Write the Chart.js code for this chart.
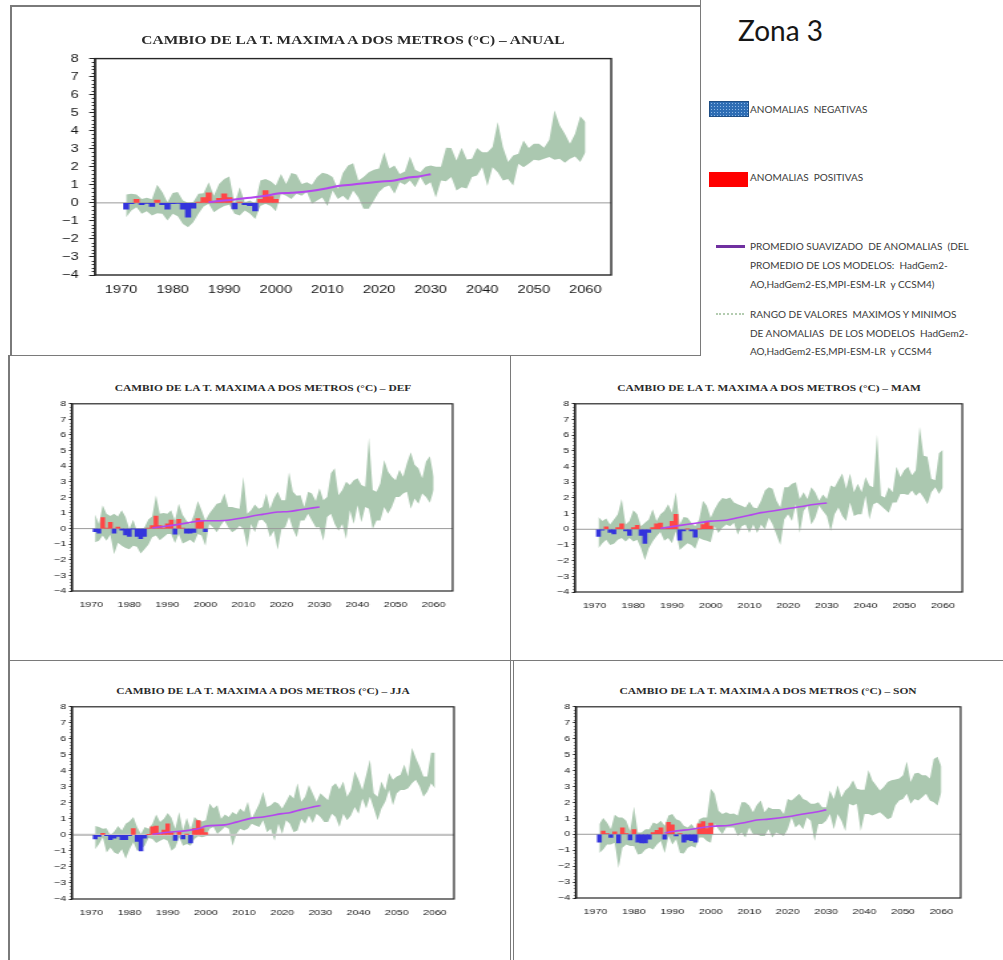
<!DOCTYPE html>
<html>
<head>
<meta charset="utf-8">
<title>Cambio de la T. máxima a dos metros – Zona 3</title>
<script src="https://cdn.jsdelivr.net/npm/chart.js@4.4.1/dist/chart.umd.min.js"></script>
<style>
  html, body { margin: 0; padding: 0; background: #fff; }
  #page { position: relative; width: 1003px; height: 960px; overflow: hidden; background: #fff; }
  .rule { position: absolute; background: #7a7a7a; }
  .panel { position: absolute; transform-origin: 0 0; }
  .panel canvas { display: block; }
  .ttl { position: absolute; font-family: "Liberation Serif", "Times New Roman", serif; font-weight: bold;
         color: #2a2a2a; white-space: nowrap; line-height: 1; }
  .lg { position: absolute; font-family: Lato, "Open Sans", sans-serif; color: #3a3a3a; font-size: 10px;
        line-height: 12px; white-space: pre; }
  #zona { position: absolute; left: 738px; top: 13px; font-family: Lato, "Open Sans", sans-serif; font-size: 28px;
          color: #161616; white-space: nowrap; line-height: 34px; }
</style>
</head>
<body>
<div id="page">
  <!-- panel frames -->
  <div class="rule" style="left:10px; top:5px; width:690px; height:1.5px;"></div>
  <div class="rule" style="left:10px; top:5px; width:1.5px; height:350px;"></div>
  <div class="rule" style="left:699.5px; top:0px; width:1.5px; height:356px;"></div>
  <div class="rule" style="left:8px; top:354.5px; width:693px; height:1.5px;"></div>
  <div class="rule" style="left:8px; top:355px; width:1.5px; height:605px;"></div>
  <div class="rule" style="left:509.5px; top:355px; width:1.5px; height:305px;"></div>
  <div class="rule" style="left:8px; top:659.5px; width:995px; height:1.5px;"></div>
  <div class="rule" style="left:509.5px; top:660px; width:1.5px; height:300px;"></div>
  <div class="rule" style="left:512.5px; top:660px; width:1.5px; height:300px;"></div>

  <!-- legend -->
  <div id="zona">Zona 3</div>
  <div style="position:absolute; left:709px; top:101px; width:38px; height:14px; background-color:#2e6db4;
       background-image: radial-gradient(#8fb9e6 0.7px, transparent 0.9px); background-size:3px 3px;
       border:1px solid #1f4f86;"></div>
  <div class="lg" style="left:750px; top:103px;">ANOMALIAS  NEGATIVAS</div>
  <div style="position:absolute; left:709px; top:172px; width:39px; height:15px; background:#ff0000;"></div>
  <div class="lg" style="left:750px; top:171px;">ANOMALIAS  POSITIVAS</div>
  <div style="position:absolute; left:716px; top:244.5px; width:29px; height:3px; background:#7030a0;"></div>
  <div class="lg" style="left:750px; top:240px;">PROMEDIO SUAVIZADO  DE ANOMALIAS  (DEL</div>
  <div class="lg" style="left:750px; top:259px;">PROMEDIO DE LOS MODELOS:  HadGem2-</div>
  <div class="lg" style="left:750px; top:278px;">AO,HadGem2-ES,MPI-ESM-LR  y CCSM4)</div>
  <div style="position:absolute; left:716px; top:313px; width:28px; height:0; border-top:2px dotted #b3ccb0;"></div>
  <div class="lg" style="left:750px; top:308px;">RANGO DE VALORES  MAXIMOS Y MINIMOS</div>
  <div class="lg" style="left:750px; top:327px;">DE ANOMALIAS  DE LOS MODELOS  HadGem2-</div>
  <div class="lg" style="left:750px; top:345px;">AO,HadGem2-ES,MPI-ESM-LR  y CCSM4</div>
</div>

<script>
// ---- axes ----
const xRange = [1965, 2065];
const xTicks = [1970, 1980, 1990, 2000, 2010, 2020, 2030, 2040, 2050, 2060];
const yTicks = [-4, -3, -2, -1, 0, 1, 2, 3, 4, 5, 6, 7, 8];

// ---- years ----
const barYears = [1971, 1972, 1973, 1974, 1975, 1976, 1977, 1978, 1979, 1980,
                  1981, 1982, 1983, 1984, 1985, 1986, 1987, 1988, 1989, 1990,
                  1991, 1992, 1993, 1994, 1995, 1996, 1997, 1998, 1999, 2000];
const bandYears = [1971, 1972, 1973, 1974, 1975, 1976, 1977, 1978, 1979, 1980,
                   1981, 1982, 1983, 1984, 1985, 1986, 1987, 1988, 1989, 1990,
                   1991, 1992, 1993, 1994, 1995, 1996, 1997, 1998, 1999, 2000,
                   2001, 2002, 2003, 2004, 2005, 2006, 2007, 2008, 2009, 2010,
                   2011, 2012, 2013, 2014, 2015, 2016, 2017, 2018, 2019, 2020,
                   2021, 2022, 2023, 2024, 2025, 2026, 2027, 2028, 2029, 2030,
                   2031, 2032, 2033, 2034, 2035, 2036, 2037, 2038, 2039, 2040,
                   2041, 2042, 2043, 2044, 2045, 2046, 2047, 2048, 2049, 2050,
                   2051, 2052, 2053, 2054, 2055, 2056, 2057, 2058, 2059, 2060];

// ---- ANUAL ----
const anualAnom = [-0.35, -0.05, 0.2, -0.1, -0.02, -0.2, 0.15, -0.1, -0.35, -0.05,
                   -0.02, -0.35, -0.8, -0.3, 0.05, 0.3, 0.55, 0.05, 0.25, 0.5,
                   0.3, -0.33, 0.05, -0.1, -0.15, -0.45, 0.2, 0.68, 0.35, 0.2];
const anualMax = [0.46, 0.5, 0.46, 0.22, 0.28, 0.2, 1.0, 0.6, 0.04, 0.55,
                  0.6, 0.13, 0, 0.05, 0.5, 0.54, 1.15, 0.4, 1.05, 1.33,
                  1.46, -0.05, 0.87, 0.04, 0.13, -0.05, 1.24, 1.33, 1.2, 0.96,
                  1.6, 1.05, 1.65, 1.57, 1.05, 1.15, 1.0, 1.43, 1.67, 1.6,
                  1.43, 0.78, 1.65, 2.07, 2.2, 1.24, 1.43, 1.7, 1.83, 1.9,
                  2.8, 1.9, 2.07, 1.6, 1.74, 2.57, 1.83, 1.7, 2.0, 2.07,
                  2.0, 2.0, 3.05, 3.04, 2.35, 3.05, 2.4, 2.44, 3.04, 2.8,
                  2.8, 3.1, 4.48, 3.1, 2.26, 2.63, 2.72, 3.46, 3.04, 3.28,
                  3.28, 3.05, 3.5, 5.13, 4.3, 3.83, 3.28, 3.83, 4.8, 4.48];
const anualMin = [-0.8, -0.43, -0.24, -0.6, -0.46, -0.7, -0.57, -0.6, -0.98, -0.6,
                  -0.74, -1.17, -1.35, -1.07, -0.6, -0.2, -0.05, -0.52, -0.33, -0.18,
                  -0.1, -0.6, -0.7, -0.42, -0.6, -0.89, -0.18, -0.05, -0.18, -0.46,
                  0.5, 0.4, 0.22, 0.5, 0.4, 0.6, -0.05, 0.13, 0.3, -0.18,
                  0.69, 0.22, 0.4, 0.13, 0.69, 0.3, -0.33, -0.33, 0.13, 0.6,
                  0.87, 0.96, 0.5, 1.15, 1.0, 1.24, 0.87, 1.43, 0.96, 1.15,
                  0.3, 1.24, 1.2, 1.43, 0.69, 0.87, 0.8, 1.43, 1.52, 1.98,
                  0.93, 1.98, 1.7, 1.24, 1.33, 0.96, 2.17, 1.98, 2.17, 2.39,
                  2.35, 2.44, 2.54, 2.39, 2.44, 2.22, 2.44, 2.57, 2.26, 2.8];
const anualSmoothYears = [1987, 1990, 1995, 1998, 2000, 2003, 2006, 2010, 2012, 2015, 2020, 2023, 2025, 2028, 2030];
const anualSmooth = [0.04, 0.13, 0.28, 0.39, 0.5, 0.56, 0.63, 0.81, 0.93, 1.02, 1.17, 1.24, 1.37, 1.48, 1.59];

// ---- DEF ----
const defAnom = [-0.2, -0.3, 0.7, 0.02, 0.4, -0.3, 0.1, -0.1, -0.4, -0.5,
                 -0.02, -0.5, -0.65, -0.5, 0.02, 0.2, 0.8, 0.2, 0.02, 0.3,
                 0.55, -0.35, 0.6, 0.02, -0.3, -0.3, -0.25, 0.65, 0.5, -0.2];
const defMax = [0.9, 0.3, 1.5, 0.95, 0.8, 0.95, 0.78, 1.17, 0.74, -0.02,
                0.56, -0.13, -0.13, 0.09, 0.58, 0.78, 2.14, 0.95, 1.0, 0.95,
                1.17, 0.52, 1.6, 0.89, 0.52, 0.3, 0.89, 1.77, 1.17, 0.52,
                0.95, 1.28, 1.6, 1.65, 2.25, 1.39, 1.39, 1.32, 1.28, 3.33,
                0.95, 1.17, 1.54, 1.28, 1.39, 2.25, 1.28, 1.93, 2.36, 1.82,
                1.82, 3.61, 2.36, 2.1, 2.14, 1.39, 2.36, 2.25, 1.77, 2.58,
                1.82, 2.03, 3.55, 3.87, 2.14, 2.47, 3.0, 2.8, 3.1, 3.22,
                2.8, 2.68, 5.82, 2.47, 2.36, 2.9, 4.4, 3.66, 3.33, 3.1,
                3.77, 3.33, 4.2, 4.9, 4.1, 3.87, 3.22, 4.3, 4.63, 3.33];
const defMin = [-0.87, -0.78, -0.45, -0.78, -0.4, -1.65, -0.9, -1.1, -1.25, -1.32,
                -1.1, -1.17, -1.6, -1.32, -1.04, -0.56, -0.45, -0.74, -0.56, -0.35,
                -0.35, -0.93, -0.35, -0.95, -0.84, -0.71, -0.93, -0.35, -0.45, -1.1,
                0.3, 0.09, -0.24, 0.19, 0.52, 0.09, -0.24, -0.09, 0.19, -0.02,
                -1.21, 0.3, -0.24, 0.52, 0.56, 0.3, -0.56, -0.13, -1.36, -0.02,
                0.09, 0.74, -0.02, -0.56, 0.52, 0.52, 0.95, 0.52, 0.09, 0.09,
                -0.78, 0.74, 0.95, 0.3, -0.13, 0.3, -0.67, 1.17, 0.3, 1.5,
                0.41, 1.39, 1.28, -0.02, 0.52, 0.52, 1.39, 0.95, 1.39, 2.03,
                2.03, 2.25, 2.36, 1.28, 1.93, 1.6, 2.25, 2.03, 1.65, 2.47];
const defSmoothYears = [1986, 1990, 1995, 1998, 2000, 2005, 2010, 2013, 2015, 2019, 2022, 2025, 2030];
const defSmooth = [0.04, 0.17, 0.35, 0.48, 0.5, 0.52, 0.69, 0.84, 0.91, 1.06, 1.1, 1.21, 1.39];

// ---- MAM ----
const mamAnom = [-0.45, -0.05, 0.15, -0.2, -0.3, 0.1, 0.35, -0.1, -0.4, 0.1,
                 0.25, -0.4, -0.9, -0.2, 0.1, 0.35, 0.4, 0.05, 0.1, 0.5,
                 0.95, -0.7, -0.1, 0.02, -0.1, -0.5, 0.02, 0.3, 0.45, 0.2];
const mamMax = [0.78, 0.52, 0.69, 0.3, 0.63, 0.95, 1.93, 0.3, 0.52, 1.21,
                0.95, 0.19, 0.41, 0.63, 1.28, 0.52, 0.95, 1.17, 1.6, 1.06,
                2.36, 0.3, 0.78, 0.74, 0.41, 0.19, 0.63, 1.82, 1.5, 0.74,
                1.28, 1.71, 1.99, 1.93, 2.03, 1.71, 1.6, 1.5, 1.39, 1.77,
                1.39, 1.34, 1.82, 2.47, 2.68, 2.58, 1.82, 1.39, 2.68, 2.68,
                2.9, 3.0, 1.93, 2.36, 1.93, 2.68, 2.36, 1.82, 2.21, 1.93,
                2.79, 2.68, 3.12, 3.55, 2.58, 3.55, 2.36, 2.9, 2.36, 3.33,
                2.79, 2.68, 6.04, 2.14, 2.03, 2.68, 2.36, 3.98, 3.33, 3.77,
                3.98, 3.44, 3.77, 6.54, 4.68, 4.63, 3.22, 3.12, 4.85, 5.07];
const mamMin = [-1.21, -0.89, -0.67, -1.0, -0.93, -0.67, -0.56, -0.78, -0.56, -0.78,
                -0.67, -1.21, -1.97, -1.21, -0.78, -0.45, -0.17, -0.74, -0.56, -0.89,
                -0.13, -1.32, -1.1, -0.89, -1.0, -1.25, -0.56, -0.67, -0.74, -0.82,
                0.19, -0.24, 0.09, 0.3, 0.19, 0.41, -0.35, 0.19, 0.3, -0.24,
                0.3, -0.24, 0.3, -0.02, 0.74, 0.3, -0.35, -1.0, 0.63, 0.95,
                0.52, 1.6, -0.24, 1.17, 1.5, 0.3, 0.74, 1.5, 1.17, 0.84,
                -0.13, 0.95, 1.39, 0.84, 0.52, 1.71, 0.84, 0.95, 0.95, 2.14,
                0.63, 1.6, 1.71, 1.5, 1.28, 1.06, 1.71, 1.71, 2.25, 2.25,
                2.19, 2.47, 2.14, 2.36, 2.03, 1.6, 2.36, 2.68, 2.25, 2.68];
const mamSmoothYears = [1987, 1990, 1995, 2000, 2004, 2007, 2010, 2013, 2016, 2020, 2023, 2026, 2030];
const mamSmooth = [0.06, 0.17, 0.35, 0.52, 0.58, 0.73, 0.89, 1.06, 1.17, 1.32, 1.43, 1.56, 1.68];

// ---- JJA ----
const jjaAnom = [-0.25, -0.1, 0.1, -0.05, -0.3, -0.2, -0.1, -0.3, -0.3, -0.05,
                 0.4, -0.4, -1.0, -0.2, 0.02, 0.5, 0.55, 0.05, 0.3, 0.7,
                 0.15, -0.35, 0.2, -0.25, 0.05, -0.5, 0.4, 0.9, 0.4, 0.15];
const jjaMax = [0.55, 0.49, 0.38, 0.42, -0.04, 0.21, 0.55, 0.27, 0.7, 0.86,
                1.12, 0.49, 0.06, 0.49, 0.38, 0.7, 1.27, 0.8, 1.01, 1.37,
                1.08, 0.38, 1.43, 0.27, 1.08, 0.34, 1.12, 0.91, 0.84, 0.91,
                1.96, 1.65, 1.86, 1.01, 1.27, 1.12, 1.43, 1.27, 1.65, 1.43,
                2.07, 1.01, 1.48, 1.96, 2.7, 1.75, 1.86, 2.07, 1.96, 1.65,
                2.07, 2.53, 2.28, 3.23, 2.07, 2.38, 3.12, 2.6, 2.07, 2.6,
                2.38, 2.17, 3.02, 3.23, 2.85, 3.33, 2.38, 2.81, 3.97, 3.44,
                2.81, 3.76, 4.7, 2.6, 2.38, 3.33, 2.81, 3.86, 3.44, 3.65,
                3.76, 4.39, 3.65, 5.44, 4.81, 4.28, 3.65, 3.65, 5.13, 5.13];
const jjaMin = [-0.89, -0.57, -0.15, -1.1, -0.78, -1.1, -1.2, -0.89, -1.48, -0.89,
                -0.46, -0.99, -0.89, -0.68, -0.19, -0.25, -0.51, -0.36, -0.25, -0.36,
                -0.99, -0.78, -0.15, -0.68, -0.57, -0.68, -0.25, -0.08, -0.15, -0.08,
                0.38, 0.49, 0.06, 0.27, 0.49, 0.38, -0.68, 0.06, 0.38, 0.27,
                0.38, 0.7, 0.59, 0.49, 0.91, 0.17, 0.38, -0.36, 0.7, 0.06,
                0.91, 0.7, 0.17, 0.27, 1.01, 0.7, 1.22, 0.74, 1.33, 1.12,
                0.8, 0.8, 1.33, 1.12, 0.49, 1.33, 0.91, 1.22, 1.75, 1.33,
                2.28, 1.65, 2.38, 1.65, 0.91, 1.65, 2.07, 2.81, 1.86, 2.6,
                2.81, 2.81, 2.91, 3.23, 3.44, 3.02, 2.38, 2.7, 3.23, 2.91];
const jjaSmoothYears = [1986, 1990, 1995, 1998, 2000, 2005, 2008, 2012, 2015, 2020, 2022, 2025, 2028, 2030];
const jjaSmooth = [0.04, 0.17, 0.27, 0.38, 0.55, 0.63, 0.8, 1.05, 1.12, 1.33, 1.39, 1.58, 1.75, 1.84];

// ---- SON ----
const sonAnom = [-0.5, 0.2, 0.05, -0.2, 0.15, -0.55, 0.4, 0.05, -0.35, 0.3,
                 -0.5, -0.55, -0.55, -0.3, 0.1, 0.25, 0.4, -0.3, 0.75, 0.6,
                 -0.1, 0.05, -0.5, -0.35, -0.4, -0.5, 0.65, 0.8, 0.35, 0.7];
const sonMax = [0.64, 1.02, 0.74, 0.32, 1.23, 1.06, 1.06, 0.85, 0.21, 1.74,
                0.11, 0.11, 0.32, 0.32, 0.74, 0.64, 0.85, 0.53, 1.17, 1.27,
                0.95, 0.85, 0.53, 0.42, 0.64, 0.32, 0.95, 1.06, 1.06, 2.86,
                2.54, 1.48, 1.27, 1.38, 1.27, 1.31, 1.17, 2.01, 2.01, 1.8,
                1.38, 1.86, 2.12, 1.38, 1.69, 1.59, 1.59, 1.59, 1.27, 2.22,
                2.12, 2.33, 2.54, 2.22, 2.12, 1.91, 1.91, 2.01, 1.69, 1.69,
                2.75, 2.22, 3.07, 2.33, 2.75, 2.97, 3.39, 2.86, 2.8, 2.8,
                4.03, 3.39, 3.07, 2.75, 2.97, 3.28, 3.39, 3.43, 3.5, 3.71,
                4.56, 3.28, 3.81, 3.86, 3.71, 3.71, 3.5, 4.72, 4.87, 4.24];
const sonMin = [-1.17, -0.95, -0.64, -0.64, -0.53, -2.12, -0.85, -0.64, -0.74, -0.74,
                -1.27, -1.23, -0.95, -0.85, -0.95, -0.64, -0.42, -1.17, -0.11, -0.64,
                -0.32, -1.17, -1.21, -0.85, -0.74, -0.85, -0.21, -0.21, -0.42, -0.53,
                0.64, 0.32, 0, 0.42, 0.42, 0.42, -0.11, 0.11, -0.21, 0.42,
                0, 0, -0.11, -0.11, 0.32, -0.21, 0.11, 0, -0.11, 0.32,
                1.06, 0.42, 0.64, 0.32, 1.06, 0.85, -0.42, 0.64, 0.64, 0.85,
                1.27, 0.32, 1.27, 0.85, 0.21, 1.91, 1.8, 1.91, 0.21, 1.27,
                1.27, 1.17, 1.27, 1.38, 1.17, 0.95, 1.06, 1.8, 2.12, 2.22,
                2.54, 1.91, 2.22, 2.12, 2.33, 2.54, 2.12, 2.01, 1.8, 2.65];
const sonSmoothYears = [1988, 1990, 1995, 2000, 2005, 2009, 2012, 2015, 2020, 2024, 2027, 2030];
const sonSmooth = [0.08, 0.17, 0.32, 0.49, 0.57, 0.74, 0.89, 0.95, 1.1, 1.27, 1.38, 1.53];

// ---- styling ----
const COL_NEG = '#3434dc';
const COL_POS = '#ff4646';
const COL_BAND = '#abc8b0';
const COL_SMOOTH = '#b446ee';
const COL_AXIS = '#262626';

// frame around the plot area plus minor ticks on the value axis
const axisFrame = {
  id: 'axisFrame',
  afterDatasetsDraw(chart, args, opts) {
    const { ctx, chartArea: a, scales: { y } } = chart;
    ctx.save();
    ctx.strokeStyle = COL_AXIS;
    ctx.lineWidth = opts.frameWidth;
    ctx.strokeRect(a.left, a.top, a.right - a.left, a.bottom - a.top);
    ctx.lineWidth = 1;
    ctx.beginPath();
    const steps = (y.max - y.min) * 5;
    for (let i = 1; i < steps; i++) {
      if (i % 5 === 0) continue;
      const py = Math.round(y.getPixelForValue(y.min + i / 5)) + 0.5;
      ctx.moveTo(a.left - opts.minorLen, py);
      ctx.lineTo(a.left, py);
    }
    ctx.stroke();
    ctx.restore();
  }
};

const pts = (xs, ys) => xs.map((x, i) => ({ x, y: ys[i] }));

function buildPanel(spec, s) {
  const page = document.getElementById('page');
  const plotW = (spec.R - spec.L) / spec.k;
  const plotH = spec.B - spec.T;
  const W = Math.round(spec.wy + plotW + spec.pr);
  const H = Math.round(spec.pt + plotH + spec.hx);
  const box = document.createElement('div');
  box.className = 'panel';
  box.style.transform = 'scaleX(' + spec.k + ')';
  const cv = document.createElement('canvas');
  cv.width = W; cv.height = H;
  cv.style.width = W + 'px'; cv.style.height = H + 'px';
  box.appendChild(cv);
  page.appendChild(box);

  const ttl = document.createElement('div');
  ttl.className = 'ttl';
  ttl.textContent = s.title;
  ttl.style.fontSize = spec.titleSize + 'px';
  ttl.style.left = spec.titleX + 'px';
  ttl.style.top = spec.titleY + 'px';
  ttl.style.transform = 'translate(-50%, -50%) scaleX(' + spec.k + ')';
  page.appendChild(ttl);

  const tickFont = { family: '"Liberation Sans", Arial, sans-serif', size: spec.tickFont };

  const chart = new Chart(cv, {
    type: 'bar',
    data: {
      datasets: [
        { type: 'line', data: pts(bandYears, s.max), fill: '+1', backgroundColor: COL_BAND,
          borderWidth: 0, pointRadius: 0, tension: 0, order: 5 },
        { type: 'line', data: pts(bandYears, s.min), fill: false, borderWidth: 0,
          pointRadius: 0, tension: 0, order: 4 },
        { type: 'line', data: pts(xRange, [0, 0]), borderColor: spec.zeroColor, borderWidth: spec.zeroWidth,
          pointRadius: 0, fill: false, order: 3 },
        { type: 'bar', data: pts(barYears, s.anom),
          backgroundColor: s.anom.map(v => v < 0 ? COL_NEG : COL_POS),
          borderWidth: 0, barPercentage: 1, categoryPercentage: 1, order: 2 },
        { type: 'line', data: pts(s.smoothYears, s.smooth), borderColor: COL_SMOOTH,
          borderWidth: spec.smoothWidth, pointRadius: 0, fill: false,
          cubicInterpolationMode: 'monotone', order: 1 }
      ]
    },
    options: {
      responsive: false,
      maintainAspectRatio: false,
      animation: false,
      devicePixelRatio: 1,
      events: [],
      layout: { padding: { left: 0, top: spec.pt, right: spec.pr, bottom: 0 } },
      plugins: {
        legend: { display: false },
        tooltip: { enabled: false },
        axisFrame: { frameWidth: spec.frameWidth, minorLen: spec.minorLen }
      },
      scales: {
        x: {
          type: 'linear', min: xRange[0], max: xRange[1], offset: false,
          afterBuildTicks: sc => { sc.ticks = xTicks.map(v => ({ value: v })); },
          afterFit: sc => { sc.height = spec.hx; },
          grid: { display: false, offset: false, drawTicks: false },
          border: { display: false },
          ticks: { autoSkip: false, maxRotation: 0, padding: spec.xPad, font: tickFont,
                   color: '#151515', callback: v => String(v) }
        },
        y: {
          type: 'linear', min: yTicks[0], max: yTicks[yTicks.length - 1],
          afterBuildTicks: sc => { sc.ticks = yTicks.map(v => ({ value: v })); },
          afterFit: sc => { sc.width = spec.wy; },
          grid: { drawOnChartArea: false, tickLength: spec.tickLen, tickColor: COL_AXIS, tickWidth: 1 },
          border: { display: true, color: COL_AXIS, width: spec.frameWidth },
          ticks: { padding: spec.labelPad, font: tickFont, color: '#151515',
                   callback: v => v < 0 ? '\u2212' + Math.abs(v) : String(v) }
        }
      }
    },
    plugins: [axisFrame]
  });

  // size the canvas so the plot area gets exactly the intended extent, then place it
  let a = chart.chartArea;
  const dw = plotW - (a.right - a.left);
  const dh = plotH - (a.bottom - a.top);
  if (Math.abs(dw) > 0.3 || Math.abs(dh) > 0.3) {
    chart.resize(Math.round(W + dw), Math.round(H + dh));
    a = chart.chartArea;
  }
  box.style.left = (spec.L - spec.k * a.left) + 'px';
  box.style.top = (spec.T - a.top) + 'px';
}

const bigSpec = { L: 95, T: 59, R: 611, B: 275, k: 1.33, wy: 40, pr: 6, pt: 6, hx: 26,
                  tickFont: 11, tickLen: 4.5, minorLen: 2.5, labelPad: 8, xPad: 8,
                  frameWidth: 1.4, smoothWidth: 2, zeroColor: '#9a9a9a', zeroWidth: 1,
                  titleSize: 11.6, titleX: 353, titleY: 41 };
const smallBase = { k: 1.33, wy: 28, pr: 6, pt: 6, hx: 20, tickFont: 8, tickLen: 2.5, minorLen: 1.5,
                    labelPad: 2, xPad: 9, frameWidth: 1.2, smoothWidth: 1.6, zeroColor: '#9a9a9a',
                    zeroWidth: 1, titleSize: 8.6 };

const TITLE = 'CAMBIO DE LA T. MAXIMA A DOS METROS (°C) – ';

buildPanel(bigSpec, { title: TITLE + 'ANUAL', anom: anualAnom, max: anualMax, min: anualMin,
                      smoothYears: anualSmoothYears, smooth: anualSmooth });
buildPanel(Object.assign({}, smallBase, { L: 72, T: 403.5, R: 453, B: 591, titleX: 263, titleY: 388 }),
           { title: TITLE + 'DEF', anom: defAnom, max: defMax, min: defMin,
             smoothYears: defSmoothYears, smooth: defSmooth });
buildPanel(Object.assign({}, smallBase, { L: 575, T: 403.5, R: 962, B: 592, titleX: 768.5, titleY: 388 }),
           { title: TITLE + 'MAM', anom: mamAnom, max: mamMax, min: mamMin,
             smoothYears: mamSmoothYears, smooth: mamSmooth });
buildPanel(Object.assign({}, smallBase, { L: 72, T: 706.5, R: 454, B: 899, titleX: 263, titleY: 691,
                                          zeroColor: '#c4c4c4', zeroWidth: 2.2 }),
           { title: TITLE + 'JJA', anom: jjaAnom, max: jjaMax, min: jjaMin,
             smoothYears: jjaSmoothYears, smooth: jjaSmooth });
buildPanel(Object.assign({}, smallBase, { L: 576, T: 706.5, R: 960, B: 898, titleX: 768, titleY: 690.5 }),
           { title: TITLE + 'SON', anom: sonAnom, max: sonMax, min: sonMin,
             smoothYears: sonSmoothYears, smooth: sonSmooth });
</script>
</body>
</html>
